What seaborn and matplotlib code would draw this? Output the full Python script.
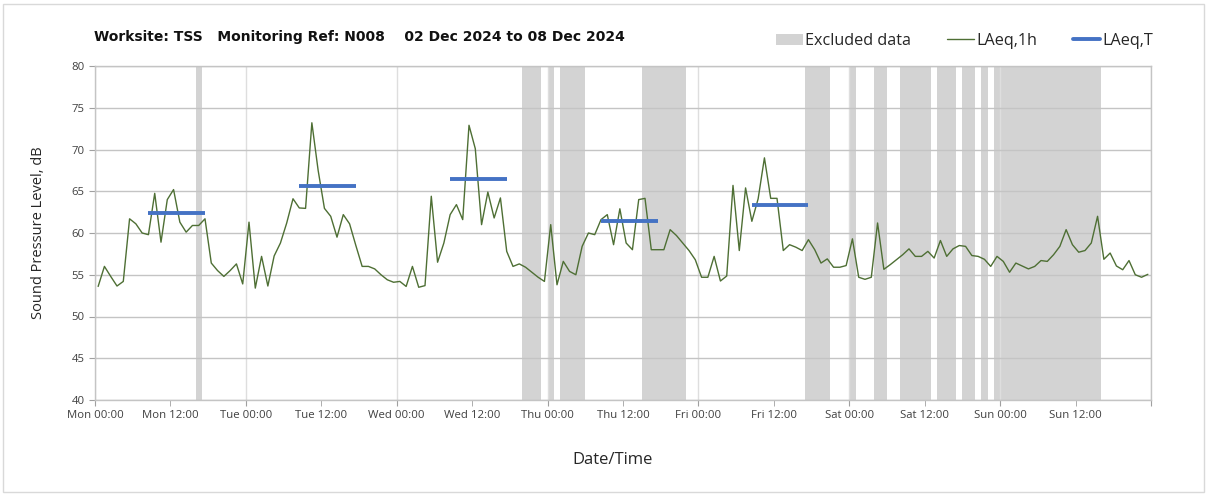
import pandas as pd
import numpy as np
import matplotlib
matplotlib.use("Agg")
import matplotlib.pyplot as plt
import matplotlib.dates as mdates
from matplotlib.ticker import FuncFormatter
from matplotlib.patches import Patch, Rectangle
from matplotlib.lines import Line2D
import seaborn as sns

# Settings
sns.set_style("white")
plt.rcParams["font.family"] = ["Open Sans", "DejaVu Sans"]

# Data: hourly LAeq (plotted at mid-hour)
start_time = "2024-12-02 00:30"
laeq_1h = [
    53.6, 56.0, 54.8, 53.65, 54.2, 61.7, 61.1, 60.0, 59.8, 64.75,
    58.9, 64.0, 65.2, 61.3, 60.1, 60.9, 60.9, 61.7, 56.4, 55.5,
    54.8, 55.5, 56.3, 53.9, 61.3, 53.4, 57.2, 53.65, 57.25, 58.8,
    61.2, 64.1, 63.0, 62.95, 73.2, 67.5, 62.95, 62.0, 59.5, 62.2,
    61.1, 58.5, 56.0, 56.0, 55.7, 55.0, 54.4, 54.1, 54.2, 53.6,
    56.0, 53.5, 53.7, 64.4, 56.5, 58.8, 62.2, 63.4, 61.6, 72.9,
    70.1, 61.0, 64.9, 61.8, 64.2, 57.8, 56.0, 56.3, 55.9, 55.3,
    54.7, 54.2, 61.0, 53.8, 56.6, 55.4, 55.0, 58.4, 60.0, 59.8,
    61.6, 62.2, 58.6, 62.9, 58.8, 58.0, 64.0, 64.15, 58.0, 58.0,
    58.0, 60.4, 59.7, 58.8, 57.9, 56.8, 54.7, 54.7, 57.2, 54.25,
    54.85, 65.7, 57.9, 65.4, 61.4, 64.1, 69.0, 64.15, 64.15, 57.9,
    58.6, 58.3, 57.9, 59.2, 58.0, 56.4, 56.9, 55.9, 55.9, 56.1,
    59.3, 54.7, 54.45, 54.7, 61.2, 55.65, 56.2, 56.8, 57.4, 58.1,
    57.2, 57.2, 57.8, 57.0, 59.1, 57.2, 58.1, 58.5, 58.4, 57.3,
    57.2, 56.85, 56.0, 57.2, 56.6, 55.3, 56.4, 56.05, 55.7, 56.0,
    56.7, 56.6, 57.4, 58.4, 60.4, 58.6, 57.7, 57.9, 58.8, 62.0,
    56.85, 57.6, 56.05, 55.6, 56.7, 55.0, 54.7, 55.05,
]

# LAeq,T daytime periods
laeq_t_start = ["2024-12-02 08:30", "2024-12-03 08:30", "2024-12-04 08:30",
                "2024-12-05 08:30", "2024-12-06 08:30"]
laeq_t_end = ["2024-12-02 17:30", "2024-12-03 17:30", "2024-12-04 17:30",
              "2024-12-05 17:30", "2024-12-06 17:30"]
laeq_t = [62.35, 65.65, 66.5, 61.4, 63.4]

# Excluded data periods
excl_start = ["2024-12-02 16:00", "2024-12-04 20:00", "2024-12-05 00:00",
              "2024-12-05 02:00", "2024-12-05 15:00", "2024-12-06 17:00",
              "2024-12-07 00:00", "2024-12-07 04:00", "2024-12-07 08:00",
              "2024-12-07 14:00", "2024-12-07 18:00", "2024-12-07 21:00",
              "2024-12-07 23:00"]
excl_end = ["2024-12-02 17:00", "2024-12-04 23:00", "2024-12-05 01:00",
            "2024-12-05 06:00", "2024-12-05 22:00", "2024-12-06 21:00",
            "2024-12-07 01:00", "2024-12-07 06:00", "2024-12-07 13:00",
            "2024-12-07 17:00", "2024-12-07 20:00", "2024-12-07 22:00",
            "2024-12-08 16:00"]

df = pd.DataFrame({
    "time": pd.date_range(start_time, periods=len(laeq_1h), freq="h"),
    "laeq": laeq_1h,
})

green = "#4e6f34"
blue = "#4472c4"
band = "#d3d3d3"

fig = plt.figure(figsize=(12.08, 4.95), dpi=100)
ax = fig.add_axes([95 / 1208, 95 / 495, 1056 / 1208, 334 / 495])

# Excluded bands
for s, e in zip(excl_start, excl_end):
    ax.axvspan(pd.Timestamp(s), pd.Timestamp(e), color=band, lw=0, zorder=0.2)

sns.lineplot(data=df, x="time", y="laeq", color=green, linewidth=1, ax=ax, zorder=3)

ax.hlines(laeq_t, pd.to_datetime(laeq_t_start), pd.to_datetime(laeq_t_end),
          color=blue, linewidth=2.8, zorder=4)

# Axes
x0 = pd.Timestamp("2024-12-02 00:00")
x1 = pd.Timestamp("2024-12-09 00:00")
ax.set_xlim(x0, x1)
ax.set_ylim(40, 80)
ax.set_yticks(np.arange(40, 81, 5))

end_num = mdates.date2num(x1)


def fmt_tick(x, pos):
    if abs(x - end_num) < 1e-6:
        return ""
    return mdates.num2date(x).strftime("%a %H:%M")


ax.xaxis.set_major_locator(mdates.HourLocator(byhour=[0]))
ax.xaxis.set_minor_locator(mdates.HourLocator(byhour=[12]))
ax.xaxis.set_major_formatter(FuncFormatter(fmt_tick))
ax.xaxis.set_minor_formatter(FuncFormatter(fmt_tick))

ax.set_axisbelow(True)
ax.grid(axis="y", color="#c4c4c4", linewidth=1)
ax.grid(axis="x", which="major", color="#dedede", linewidth=1)

for sp in ax.spines.values():
    sp.set_color("#c4c4c4")
    sp.set_linewidth(1)

ax.tick_params(axis="x", which="both", length=4, color="#a0a0a0", labelsize=8.2,
               labelcolor="#404040", pad=3, direction="out", bottom=True)
ax.tick_params(axis="y", length=4, color="#a0a0a0", labelsize=8.2,
               labelcolor="#404040", direction="out", left=True)

ax.set_ylabel("Sound Pressure Level, dB", fontsize=10.5, color="#262626")
ax.yaxis.set_label_coords(-0.046, 0.5)
ax.set_xlabel("Date/Time", fontsize=12, color="#262626")
ax.xaxis.set_label_coords(0.49, -0.155)

# Title
fig.text(94 / 1208, 1 - 37 / 495,
         "Worksite: TSS   Monitoring Ref: N008    02 Dec 2024 to 08 Dec 2024",
         fontsize=10, fontweight="bold", va="center", ha="left", color="#111111",
         family="DejaVu Sans")

# Legend
handles = [Patch(facecolor=band, edgecolor="none"),
           Line2D([], [], color=green, lw=1),
           Line2D([], [], color=blue, lw=2.8)]
fig.legend(handles, ["Excluded data", "LAeq,1h", "LAeq,T"], loc="center right",
           bbox_to_anchor=(1168 / 1208, 1 - 41 / 495), ncol=3, frameon=False,
           fontsize=11.6, handlelength=1.7, handletextpad=0.15, columnspacing=2.2,
           labelcolor="#262626")

# Outer border
fig.patches.append(Rectangle((3 / 1208, 3 / 495), 1 - 7 / 1208, 1 - 7 / 495,
                             transform=fig.transFigure, fill=False,
                             edgecolor="#d9d9d9", linewidth=1))

fig.savefig("out.png", dpi=100)
